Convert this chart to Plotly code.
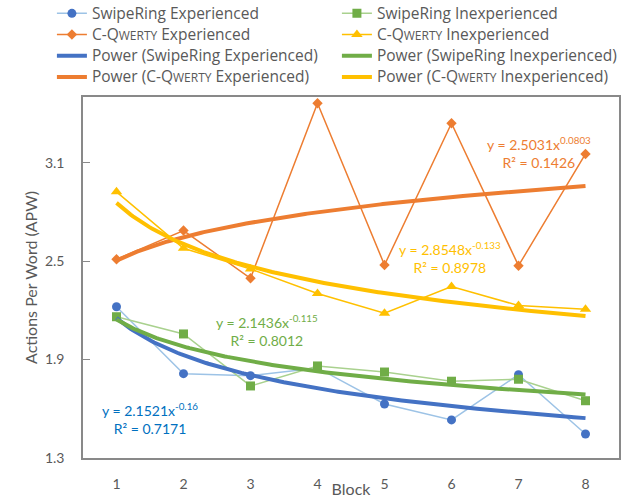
import numpy as np
import plotly.graph_objects as go

blocks = [1, 2, 3, 4, 5, 6, 7, 8]
sr_exp = [2.222, 1.814, 1.802, 1.849, 1.629, 1.532, 1.808, 1.446]
sr_inexp = [2.161, 2.056, 1.739, 1.861, 1.824, 1.768, 1.780, 1.649]
cq_exp = [2.511, 2.686, 2.395, 3.462, 2.476, 3.340, 2.472, 3.153]
cq_inexp = [2.922, 2.578, 2.452, 2.303, 2.182, 2.345, 2.229, 2.207]

# power trendline coefficients (from the equation labels)
fit_a = [2.1521, 2.1436, 2.5031, 2.8548]
fit_b = [-0.16, -0.115, 0.0803, -0.133]
fit_r2 = ["0.7171", "0.8012", "0.1426", "0.8978"]

SC = "C-Q<span style='font-size:12px'>WERTY</span>"
names = ["SwipeRing Experienced", "SwipeRing Inexperienced",
         SC + " Experienced", SC + " Inexperienced"]
series = [sr_exp, sr_inexp, cq_exp, cq_inexp]
mcol = ["#4472C4", "#70AD47", "#ED7D31", "#FFC000"]
lcol = ["#9DC3E6", "#A9D18E", "#ED7D31", "#FFC000"]
msym = ["circle", "square", "diamond", "triangle-up"]
msize = [9, 9, 8, 10]
tcol = ["#0070C0", "#70AD47", "#ED7D31", "#FFC000"]


def big(s):
    return "<span style='font-size:15.5px'>" + s + "</span>"


fig = go.Figure()
for i in range(4):
    fig.add_trace(go.Scatter(x=blocks, y=series[i], name=big(names[i]), mode="lines+markers",
                             line=dict(color=lcol[i], width=1.5),
                             marker=dict(color=mcol[i], symbol=msym[i], size=msize[i])))
xs = np.linspace(1, 8, 200)
for i in range(4):
    fig.add_trace(go.Scatter(x=xs, y=fit_a[i] * xs ** fit_b[i], mode="lines",
                             name=big("Power (" + names[i] + ")"),
                             line=dict(color=mcol[i], width=4)))

# equation labels: (x, y) in data coords
lab_pos = [(1.5, 1.54), (3.25, 2.08), (7.3, 3.16), (5.98, 2.52)]
for i in range(4):
    x0, y0 = lab_pos[i]
    fig.add_annotation(x=x0, y=y0, xref="x", yref="y", showarrow=False,
                       text="y = %.4fx<sup>%s</sup><br>R² = %s" % (fit_a[i], ("%g" % fit_b[i]), fit_r2[i]),
                       font=dict(family="Lato", size=14, color=tcol[i]), align="center")

fig.update_layout(
    width=626, height=498,
    margin=dict(l=83, r=7, t=97, b=40, autoexpand=False),
    paper_bgcolor="white", plot_bgcolor="white",
    font=dict(family="Lato", color="#595959", size=13),
    legend=dict(orientation="h", x=-0.058, y=1.275, xanchor="left", yanchor="top",
                entrywidth=240, font=dict(family="Open Sans", size=14, color="#595959"),
                tracegroupgap=0, itemwidth=30),
    showlegend=True,
)
fig.update_xaxes(range=[0.5, 8.5], tickvals=blocks, ticks="", showline=True, mirror=True,
                 linecolor="#898989", linewidth=1.5, showgrid=False, zeroline=False,
                 ticklabelstandoff=12, tickfont=dict(size=14), automargin=False,
                 title=dict(text="Block", font=dict(size=16), standoff=0))
fig.update_yaxes(range=[1.3, 3.5], tickvals=[1.3, 1.9, 2.5, 3.1], ticktext=["1.3", "1.9", "2.5", "3.1"],
                 ticks="inside", ticklen=7, tickcolor="#898989", showline=True, mirror=True,
                 linecolor="#898989", linewidth=1.5, showgrid=False, zeroline=False,
                 ticklabelstandoff=14, tickfont=dict(size=14), automargin=False,
                 title=dict(text="Actions Per Word (APW)", font=dict(size=16), standoff=3))
fig.write_html("out.html")
